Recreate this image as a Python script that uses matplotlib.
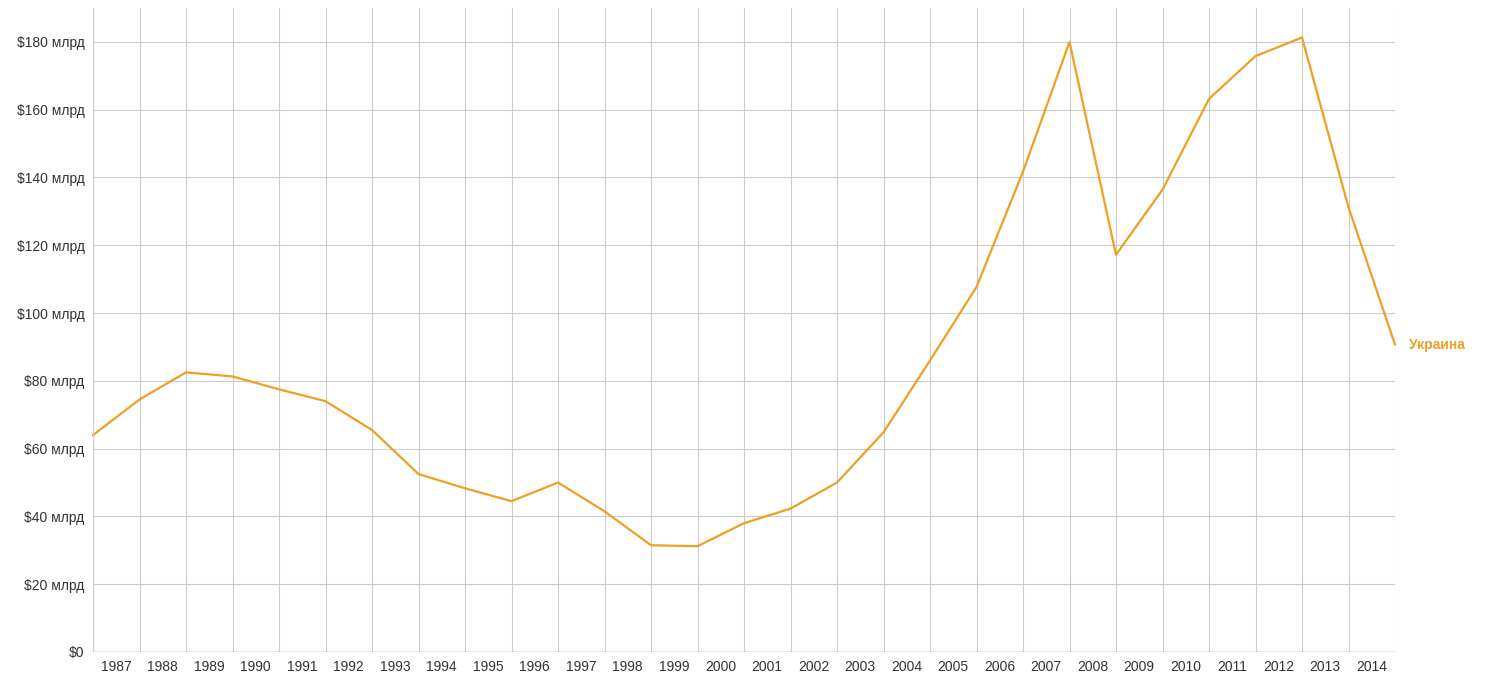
import numpy as np
import matplotlib.pyplot as plt

plt.rcParams['font.family'] = ['Liberation Sans', 'DejaVu Sans']

years = [str(y) for y in range(1987, 2015)]
values = [64, 74.5, 82.5, 81.3, 77.5, 74, 65.5, 52.5, 48.3, 44.5, 50, 41.5, 31.5, 31.2,
          38, 42.3, 50, 64.8, 86, 107.7, 141.7, 180, 117.2, 136.4, 163.2, 175.8, 181.3,
          131.2, 90.7]
series_name = 'Украина'
yticks = list(range(0, 181, 20))

fig = plt.figure(figsize=(14.98, 6.78), dpi=100)
ax = fig.add_axes([93 / 1498, 26 / 678, 1302 / 1498, 644 / 678])

x = np.arange(len(values))
ax.plot(x, values, color='#eca024', lw=1.6, clip_on=False)

ax.set_xlim(0, len(values) - 1)
ax.set_ylim(0, 190)
ax.set_xticks(x)
ax.set_xticklabels([])
ax.set_xticks(x[:-1] + 0.5, minor=True)
ax.set_xticklabels(years, minor=True, fontsize=10, color='#333333')
ax.tick_params(axis='x', which='both', length=0, pad=6)
ax.set_yticks(yticks)
ax.set_yticklabels([f'${v} млрд' if v else '$0' for v in yticks], fontsize=10, color='#333333')
ax.tick_params(axis='y', length=0, pad=6)
ax.grid(True, which='major', color='#cccccc', lw=0.8)
for s in ax.spines.values():
    s.set_visible(False)
ax.axhline(0, color='#999999', lw=1)
ax.axvline(0, color='#cccccc', lw=0.8)

ax.annotate(series_name, (x[-1], values[-1]), xytext=(10, 0), textcoords='offset points',
            color='#eca024', fontsize=10, fontweight='bold', va='center', annotation_clip=False)

fig.savefig('out.png', dpi=100)
